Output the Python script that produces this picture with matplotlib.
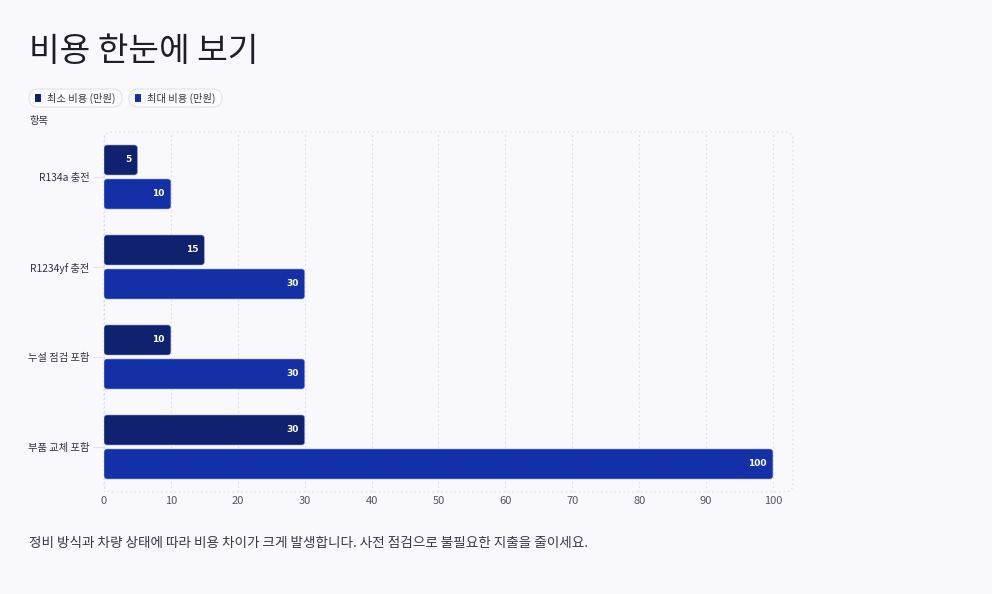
import matplotlib
matplotlib.use("Agg")
import matplotlib.pyplot as plt
from matplotlib.patches import FancyBboxPatch
import numpy as np

plt.rcParams['font.family'] = ['Noto Sans CJK KR', 'DejaVu Sans']

categories = ["R134a 충전", "R1234yf 충전", "누설 점검 포함", "부품 교체 포함"]
series_names = ["최소 비용 (만원)", "최대 비용 (만원)"]
min_cost = [5, 15, 10, 30]
max_cost = [10, 30, 30, 100]
x_ticks = [0, 10, 20, 30, 40, 50, 60, 70, 80, 90, 100]

title = "비용 한눈에 보기"
y_title = "항목"
footnote = "정비 방식과 차량 상태에 따라 비용 차이가 크게 발생합니다. 사전 점검으로 불필요한 지출을 줄이세요."

c_min = "#0F216F"
c_max = "#1330A6"
bg = "#F8F8FD"

W, H = 992, 594
fig = plt.figure(figsize=(W/100, H/100), dpi=100, facecolor=bg)
ax_l, ax_r, ax_t, ax_b = 104, 793, 132, 492
ax = fig.add_axes([ax_l/W, 1-ax_b/H, (ax_r-ax_l)/W, (ax_b-ax_t)/H])
ax.set_facecolor(bg)

xmax = 103
ax.set_xlim(0, xmax)
n = len(categories)
ax.set_ylim(n-0.5, -0.5)

y = np.arange(n)
bh = 30/90
off = 17/90
bars_min = ax.barh(y-off, min_cost, height=bh, color=c_min)
bars_max = ax.barh(y+off, max_cost, height=bh, color=c_max)

px_x = (ax_r-ax_l)/xmax
px_y = (ax_b-ax_t)/n
r_px = 3
for bars, col in ((bars_min, c_min), (bars_max, c_max)):
    for b in bars:
        x0, y0 = b.get_x(), b.get_y()
        w, h = b.get_width(), b.get_height()
        b.set_visible(False)
        fb = FancyBboxPatch((x0, y0), w, h,
                            boxstyle=f"round,pad=0,rounding_size={r_px/px_x}",
                            mutation_aspect=px_x/px_y,
                            facecolor=col, edgecolor="#9aa4d8", linewidth=0.4, zorder=3)
        ax.add_patch(fb)
        ax.text(x0+w-6/px_x, y0+h/2, f"{int(w)}", ha="right", va="center",
                color="white", fontsize=6.5, fontweight="bold", zorder=4,
                family=['DejaVu Sans'])

ax.set_xticks(x_ticks)
ax.set_xticklabels([str(t) for t in x_ticks], fontsize=8, color="#555560")
ax.set_yticks(y)
ax.set_yticklabels(categories, fontsize=7.4, color="#333340")
ax.tick_params(axis="x", length=0, pad=3)
ax.tick_params(axis="y", length=8, color="#E4E4EC", width=0.8, pad=2.5)
ax.grid(axis="x", color="#DCDCE6", linestyle=(0, (1.5, 2.5)), linewidth=0.8, zorder=0)
for s in ax.spines.values():
    s.set_visible(False)

frame = FancyBboxPatch((0, 0), 1, 1, transform=ax.transAxes,
                       boxstyle="round,pad=0,rounding_size=0.012",
                       mutation_aspect=(ax_r-ax_l)/(ax_b-ax_t),
                       facecolor="none", edgecolor="#DCDCE6",
                       linestyle=(0, (1.5, 2.5)), linewidth=0.8, clip_on=False, zorder=1)
ax.add_patch(frame)

fig.text(29/W, 1-51/H, title, fontsize=24, color="#1E1E28", ha="left", va="center")
fig.text(29/W, 1-121/H, y_title, fontsize=7.4, color="#333340", ha="left", va="center")

# legend pills
pills = [(29, 122, c_min, series_names[0]), (129, 222, c_max, series_names[1])]
for x0, x1, col, name in pills:
    pill = FancyBboxPatch((x0/W, 1-107/H), (x1-x0)/W, 18/H, transform=fig.transFigure,
                          boxstyle="round,pad=0,rounding_size=0.009",
                          mutation_aspect=W/H,
                          facecolor="#FBFBFE", edgecolor="#E2E2EA", linewidth=0.8)
    fig.add_artist(pill)
    sq = FancyBboxPatch(((x0+6)/W, 1-102/H), 6/W, 8/H, transform=fig.transFigure,
                        boxstyle="round,pad=0,rounding_size=0.001",
                        facecolor=col, edgecolor="none")
    fig.add_artist(sq)
    fig.text((x0+18)/W, 1-98/H, name, fontsize=7.4, color="#333340", ha="left", va="center")

fig.text(29/W, 1-543/H, footnote, fontsize=9.8, color="#3A3A46", ha="left", va="center")

fig.savefig("out.png", dpi=100, facecolor=bg)
